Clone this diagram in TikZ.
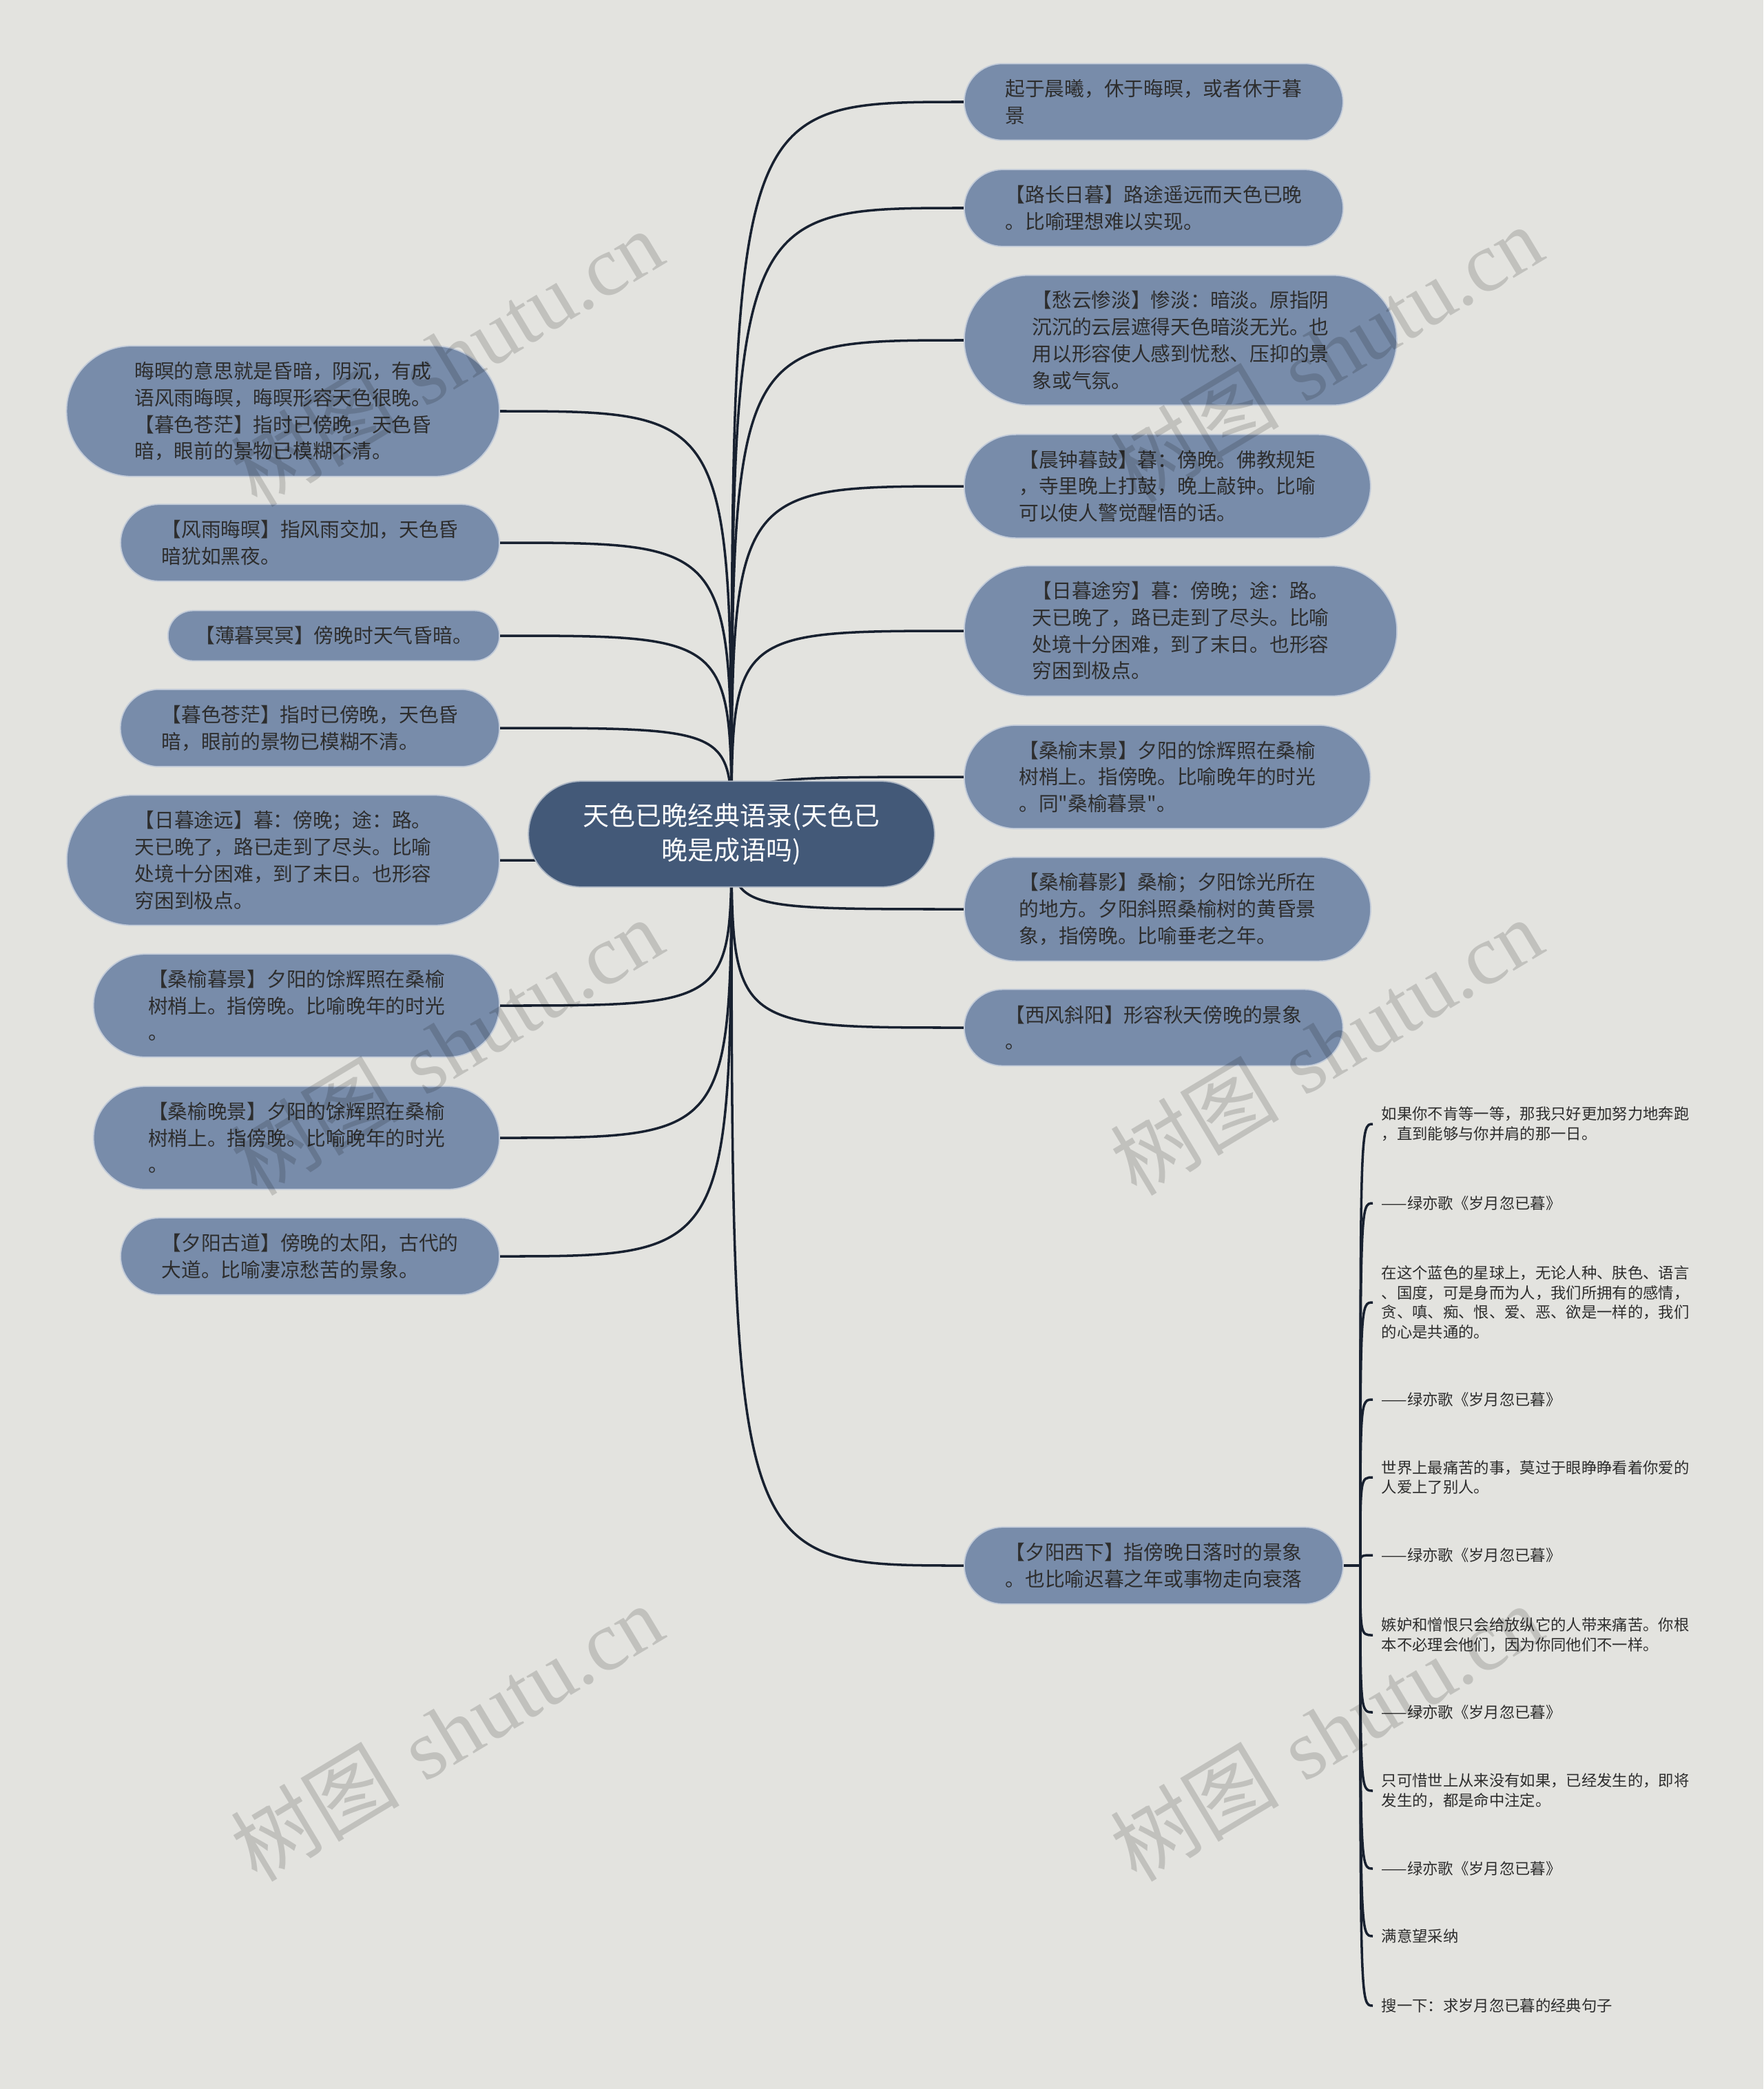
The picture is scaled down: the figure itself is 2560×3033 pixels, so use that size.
\documentclass[tikz,border=0pt]{standalone}
\usepackage{fontspec}
\newfontfamily\cjkfont{Noto Sans CJK SC}
\newfontfamily\wmlatin{Liberation Serif}
\usepackage{tikz}
\usetikzlibrary{shapes.misc}
\definecolor{bgcol}{RGB}{227,227,223}
\definecolor{topiccol}{RGB}{120,140,170}
\definecolor{rootcol}{RGB}{67,89,120}
\definecolor{edgecol}{RGB}{24,33,48}
\definecolor{txtcol}{RGB}{45,45,45}
\pgfdeclarelayer{back}
\pgfsetlayers{back,main}

\begin{document}
\begin{tikzpicture}[x=0.01cm,y=-0.01cm,root/.style={rounded rectangle,fill=rootcol,draw=white!55!rootcol,line width=0.5pt,text=white,font=\cjkfont\fontsize{10.8pt}{14.2pt}\selectfont,align=center,inner xsep=0.65cm,inner ysep=0.32cm},topic/.style={rounded rectangle,fill=topiccol,draw=white!55!topiccol,line width=0.5pt,text=txtcol,font=\cjkfont\fontsize{8.17pt}{11pt}\selectfont,align=left,text width=4.305cm,inner xsep=#1,inner ysep=0.23cm},topic/.default=0.49cm,leaf/.style={anchor=west,text=txtcol,font=\cjkfont\fontsize{6.35pt}{8.2pt}\selectfont,align=left,inner xsep=0.12cm,inner ysep=0.04cm},edge/.style={draw=edgecol,line width=1pt},wmark/.style={rotate=31,text=black,text opacity=0.15,font=\fontsize{35pt}{40pt}\selectfont}]
\useasboundingbox (0,0) rectangle (2560,3033);
\begin{pgfonlayer}{back}
\fill[bgcol] (0,0) rectangle (2560,3033);
\end{pgfonlayer}
\node[root] (root) at (1062,1211) {天色已晚经典语录(天色已\\晚是成语吗)};
\node[topic=0.66cm,anchor=east] (l1) at (726,597) {晦暝的意思就是昏暗，阴沉，有成\\语风雨晦暝，晦暝形容天色很晚。\\【暮色苍茫】指时已傍晚，天色昏\\暗，眼前的景物已模糊不清。};
\node[topic,anchor=east] (l2) at (726,788) {【风雨晦暝】指风雨交加，天色昏\\暗犹如黑夜。};
\node[topic=0.37cm,anchor=east,text width=4.018cm] (l3) at (726,923) {【薄暮冥冥】傍晚时天气昏暗。};
\node[topic,anchor=east] (l4) at (726,1057) {【暮色苍茫】指时已傍晚，天色昏\\暗，眼前的景物已模糊不清。};
\node[topic=0.66cm,anchor=east] (l5) at (726,1249) {【日暮途远】暮：傍晚；途：路。\\天已晚了，路已走到了尽头。比喻\\处境十分困难，到了末日。也形容\\穷困到极点。};
\node[topic=0.585cm,anchor=east] (l6) at (726,1460) {【桑榆暮景】夕阳的馀辉照在桑榆\\树梢上。指傍晚。比喻晚年的时光\\。};
\node[topic=0.585cm,anchor=east] (l7) at (726,1652) {【桑榆晚景】夕阳的馀辉照在桑榆\\树梢上。指傍晚。比喻晚年的时光\\。};
\node[topic,anchor=east] (l8) at (726,1824) {【夕阳古道】傍晚的太阳，古代的\\大道。比喻凄凉愁苦的景象。};
\node[topic,anchor=west] (r1) at (1399,148) {起于晨曦，休于晦暝，或者休于暮\\景};
\node[topic,anchor=west] (r2) at (1399,302) {【路长日暮】路途遥远而天色已晚\\。比喻理想难以实现。};
\node[topic=0.66cm,anchor=west] (r3) at (1399,494) {【愁云惨淡】惨淡：暗淡。原指阴\\沉沉的云层遮得天色暗淡无光。也\\用以形容使人感到忧愁、压抑的景\\象或气氛。};
\node[topic=0.585cm,anchor=west] (r4) at (1399,706) {【晨钟暮鼓】暮：傍晚。佛教规矩\\，寺里晚上打鼓，晚上敲钟。比喻\\可以使人警觉醒悟的话。};
\node[topic=0.66cm,anchor=west] (r5) at (1399,916) {【日暮途穷】暮：傍晚；途：路。\\天已晚了，路已走到了尽头。比喻\\处境十分困难，到了末日。也形容\\穷困到极点。};
\node[topic=0.585cm,anchor=west] (r6) at (1399,1128) {【桑榆末景】夕阳的馀辉照在桑榆\\树梢上。指傍晚。比喻晚年的时光\\。同"桑榆暮景"。};
\node[topic=0.585cm,anchor=west] (r7) at (1399,1320) {【桑榆暮影】桑榆；夕阳馀光所在\\的地方。夕阳斜照桑榆树的黄昏景\\象，指傍晚。比喻垂老之年。};
\node[topic,anchor=west] (r8) at (1399,1492) {【西风斜阳】形容秋天傍晚的景象\\。};
\node[topic,anchor=west] (r9) at (1399,2273) {【夕阳西下】指傍晚日落时的景象\\。也比喻迟暮之年或事物走向衰落};
\coordinate (hub) at ([xshift=0.24cm]r9.east);
\node[leaf] (t1) at (1993,1632) {如果你不肯等一等，那我只好更加努力地奔跑\\，直到能够与你并肩的那一日。};
\node[leaf] (t2) at (1993,1747) {——绿亦歌《岁月忽已暮》};
\node[leaf] (t3) at (1993,1891) {在这个蓝色的星球上，无论人种、肤色、语言\\、国度，可是身而为人，我们所拥有的感情，\\贪、嗔、痴、恨、爱、恶、欲是一样的，我们\\的心是共通的。};
\node[leaf] (t4) at (1993,2032) {——绿亦歌《岁月忽已暮》};
\node[leaf] (t5) at (1993,2145) {世界上最痛苦的事，莫过于眼睁睁看着你爱的\\人爱上了别人。};
\node[leaf] (t6) at (1993,2258) {——绿亦歌《岁月忽已暮》};
\node[leaf] (t7) at (1993,2374) {嫉妒和憎恨只会给放纵它的人带来痛苦。你根\\本不必理会他们，因为你同他们不一样。};
\node[leaf] (t8) at (1993,2486) {——绿亦歌《岁月忽已暮》};
\node[leaf] (t9) at (1993,2600) {只可惜世上从来没有如果，已经发生的，即将\\发生的，都是命中注定。};
\node[leaf] (t10) at (1993,2713) {——绿亦歌《岁月忽已暮》};
\node[leaf] (t11) at (1993,2811) {满意望采纳};
\node[leaf] (t12) at (1993,2912) {搜一下：求岁月忽已暮的经典句子};
\begin{pgfonlayer}{back}
\draw[edge] (root.center) .. controls (root.center |- l1.east) .. (l1.east);
\draw[edge] (root.center) .. controls (root.center |- l2.east) .. (l2.east);
\draw[edge] (root.center) .. controls (root.center |- l3.east) .. (l3.east);
\draw[edge] (root.center) .. controls (root.center |- l4.east) .. (l4.east);
\draw[edge] (root.center) .. controls (root.center |- l5.east) .. (l5.east);
\draw[edge] (root.center) .. controls (root.center |- l6.east) .. (l6.east);
\draw[edge] (root.center) .. controls (root.center |- l7.east) .. (l7.east);
\draw[edge] (root.center) .. controls (root.center |- l8.east) .. (l8.east);
\draw[edge] (root.center) .. controls (root.center |- r1.west) .. (r1.west);
\draw[edge] (root.center) .. controls (root.center |- r2.west) .. (r2.west);
\draw[edge] (root.center) .. controls (root.center |- r3.west) .. (r3.west);
\draw[edge] (root.center) .. controls (root.center |- r4.west) .. (r4.west);
\draw[edge] (root.center) .. controls (root.center |- r5.west) .. (r5.west);
\draw[edge] (root.center) .. controls (root.center |- r6.west) .. (r6.west);
\draw[edge] (root.center) .. controls (root.center |- r7.west) .. (r7.west);
\draw[edge] (root.center) .. controls (root.center |- r8.west) .. (r8.west);
\draw[edge] (root.center) .. controls (root.center |- r9.west) .. (r9.west);
\draw[edge] (r9.east) -- (hub);
\end{pgfonlayer}
\draw[edge] (hub) .. controls (hub |- t1.west) .. (t1.west);
\draw[edge] (hub) .. controls (hub |- t2.west) .. (t2.west);
\draw[edge] (hub) .. controls (hub |- t3.west) .. (t3.west);
\draw[edge] (hub) .. controls (hub |- t4.west) .. (t4.west);
\draw[edge] (hub) .. controls (hub |- t5.west) .. (t5.west);
\draw[edge] (hub) .. controls (hub |- t6.west) .. (t6.west);
\draw[edge] (hub) .. controls (hub |- t7.west) .. (t7.west);
\draw[edge] (hub) .. controls (hub |- t8.west) .. (t8.west);
\draw[edge] (hub) .. controls (hub |- t9.west) .. (t9.west);
\draw[edge] (hub) .. controls (hub |- t10.west) .. (t10.west);
\draw[edge] (hub) .. controls (hub |- t11.west) .. (t11.west);
\draw[edge] (hub) .. controls (hub |- t12.west) .. (t12.west);
\node[wmark] (w1) at (648,519) {{\cjkfont 树图} {\wmlatin shutu.cn}};
\node[wmark] (w2) at (1925,513) {{\cjkfont 树图} {\wmlatin shutu.cn}};
\node[wmark] (w3) at (648,1519) {{\cjkfont 树图} {\wmlatin shutu.cn}};
\node[wmark] (w4) at (1925,1519) {{\cjkfont 树图} {\wmlatin shutu.cn}};
\node[wmark] (w5) at (648,2515) {{\cjkfont 树图} {\wmlatin shutu.cn}};
\node[wmark] (w6) at (1925,2515) {{\cjkfont 树图} {\wmlatin shutu.cn}};
\end{tikzpicture}
\end{document}
